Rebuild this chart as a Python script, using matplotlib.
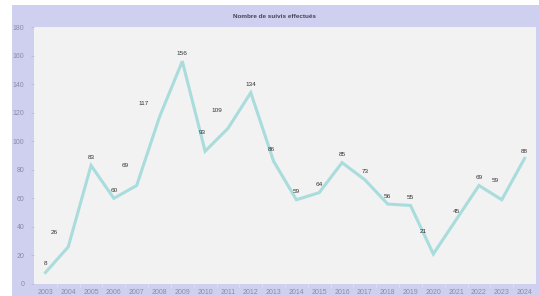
import matplotlib
matplotlib.use("Agg")
import matplotlib.pyplot as plt
from matplotlib.patches import Rectangle
from matplotlib.ticker import FixedLocator

years = ["2003", "2004", "2005", "2006", "2007", "2008", "2009", "2010", "2011", "2012", "2013",
         "2014", "2015", "2016", "2017", "2018", "2019", "2020", "2021", "2022", "2023", "2024"]
values = [8, 26, 83, 60, 69, 117, 156, 93, 109, 134, 86,
          59, 64, 85, 73, 56, 55, 21, 45, 69, 59, 88]
title = "Nombre de suivis effectués"

# label offsets in pixels (dx, dy) — style only
label_offsets = [(0, 9), (-14, 14), (0, 8), (0, 8), (-11, 20), (-16, 13), (0, 8), (-3, 19),
                 (-11, 18), (0, 8), (-2, 12), (0, 8), (0, 8), (0, 8), (0, 8), (0, 8),
                 (0, 8), (-10, 23), (0, 8), (0, 8), (-7, 19), (0, 7)]

W, H = 539, 296
fig = plt.figure(figsize=(W / 100, H / 100), dpi=100)
fig.patch.set_facecolor("white")
bg = Rectangle((12 / W, 0), 1 - 12 / W, (H - 5) / H, transform=fig.transFigure,
               facecolor="#cfcfef", edgecolor="none", zorder=-10)
fig.add_artist(bg)

ax = fig.add_axes([34 / W, (H - 284) / H, (536 - 34) / W, (284 - 27) / H])
ax.set_zorder(5)
ax.set_facecolor("#f2f2f2")
for s in ax.spines.values():
    s.set_visible(False)

x = list(range(len(years)))
ax.plot(x, values, color="#a9dcdc", lw=2.2, solid_joinstyle="miter", zorder=3)

for xi, v, (dx, dy) in zip(x, values, label_offsets):
    ax.annotate(str(v), (xi, v), xytext=(dx, dy), textcoords="offset pixels",
                ha="center", va="center", fontsize=4.6, color="#333333",
                family="Liberation Sans")

ax.set_xlim(-0.5, len(years) - 0.5)
ax.set_ylim(0, 180)
ax.set_yticks(range(0, 181, 20))
ax.set_xticks(x)
ax.set_xticklabels(years)
ax.xaxis.set_minor_locator(FixedLocator([i + 0.5 for i in range(len(years) - 1)]))
ax.tick_params(axis="x", which="major", length=0, pad=3.5, labelsize=5, labelcolor="#8a8aa8")
ax.tick_params(axis="x", which="minor", length=2.5, width=0.5, color="#e6e6f6", direction="out")
ax.tick_params(axis="y", which="major", length=2, width=0.5, color="#b8b8d8", pad=5,
               labelsize=5, labelcolor="#8a8aa8")
for lab in ax.get_xticklabels() + ax.get_yticklabels():
    lab.set_family("Liberation Sans")

fig.text((12 + 537) / 2 / W, 1 - 16.5 / H, title, ha="center", va="center", fontsize=4.6,
         fontweight="bold", color="#444455", family="Liberation Sans")

fig.savefig("out.png", dpi=100)
